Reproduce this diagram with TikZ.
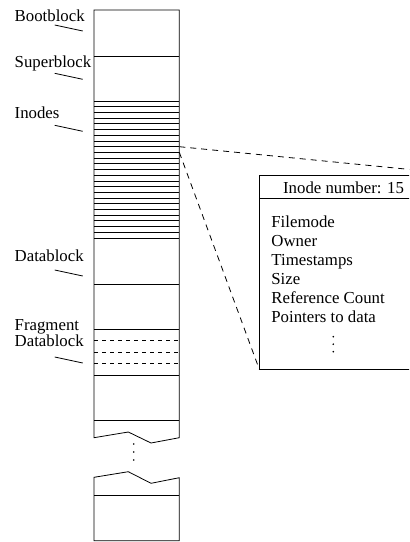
\documentclass[tikz,border=0pt]{standalone}
\usepackage{fontspec}
\setmainfont{Liberation Serif}
\begin{document}
\begin{tikzpicture}[x=1bp,y=-1bp,line width=0.8bp,
  lbl/.style={anchor=base west,inner sep=0pt,font=\fontsize{16.8bp}{19.1bp}\selectfont},
  tick/.style={line width=0.8bp},
  frag/.style={dash pattern=on 4bp off 4bp},
  zoomline/.style={dash pattern=on 6bp off 5bp},
  dotmark/.style={fill=black,draw=none}]
\useasboundingbox (0,0) rectangle (409,542);
\clip (0,0) rectangle (409,542);
% column, upper piece
\draw (94,437.7) -- (94,10) -- (179.3,10) -- (179.3,437.7) -- (151,443) -- (128.3,432) -- cycle;
% column, lower piece
\draw (94,477.3) -- (128.3,471.7) -- (151,483.3) -- (179.3,477.7) -- (179.3,540.7) -- (94,540.7) -- cycle;
% block separators
\foreach \yy in {56,101,238.3,284,329.3,375.7,420.7,495}
  \draw (94,\yy) -- (179.3,\yy);
\foreach \k in {1,...,23}
  \draw (94,{101+\k*5.7083}) -- (179.3,{101+\k*5.7083});
\foreach \yy in {340.7,352.3,363.7}
  \draw[frag] (94,\yy) -- (179.3,\yy);
% gap dots
\foreach \yy in {444,452,460}
  \fill[dotmark] (133.7,\yy) circle (0.9);
% labels
\node[lbl] (boot) at (14.3,21.7) {Bootblock};
\node[lbl] (super) at (14.3,67.5) {Superblock};
\node[lbl] (inodes) at (14.3,119) {Inodes};
\node[lbl] (data) at (14.3,261) {Datablock};
\node[lbl] (frag1) at (14.3,330.7) {Fragment};
\node[lbl] (frag2) at (14.3,346.7) {Datablock};
\foreach \yy in {25,73.3,125.3,270,357}
  \draw[tick] (54.7,\yy) -- (82.7,{\yy+6});
% inode detail box
\coordinate (hiA) at (179.3,146.7);
\coordinate (hiB) at (179.3,152.3);
\coordinate (boxTL) at (259.3,175.7);
\coordinate (boxTR) at (473,175.7);
\coordinate (boxBL) at (259.3,369.3);
\draw (boxTL) rectangle (473,369.3);
\draw (259.3,198.7) -- (473,198.7);
\draw[zoomline] (hiA) -- (boxTR);
\draw[zoomline] (hiB) -- (boxBL);
\node[lbl] (hdr) at (282.7,193.3) {Inode number: 15};
\node[lbl] (f1) at (271,227.3) {Filemode};
\node[lbl] (f2) at (271,246.4) {Owner};
\node[lbl] (f3) at (271,265.5) {Timestamps};
\node[lbl] (f4) at (271,284.6) {Size};
\node[lbl] (f5) at (271,303.7) {Reference Count};
\node[lbl] (f6) at (271,322.8) {Pointers to data};
\foreach \yy in {336.7,344.2,351.7}
  \fill[dotmark] (333.3,\yy) circle (0.9);
\end{tikzpicture}
\end{document}
